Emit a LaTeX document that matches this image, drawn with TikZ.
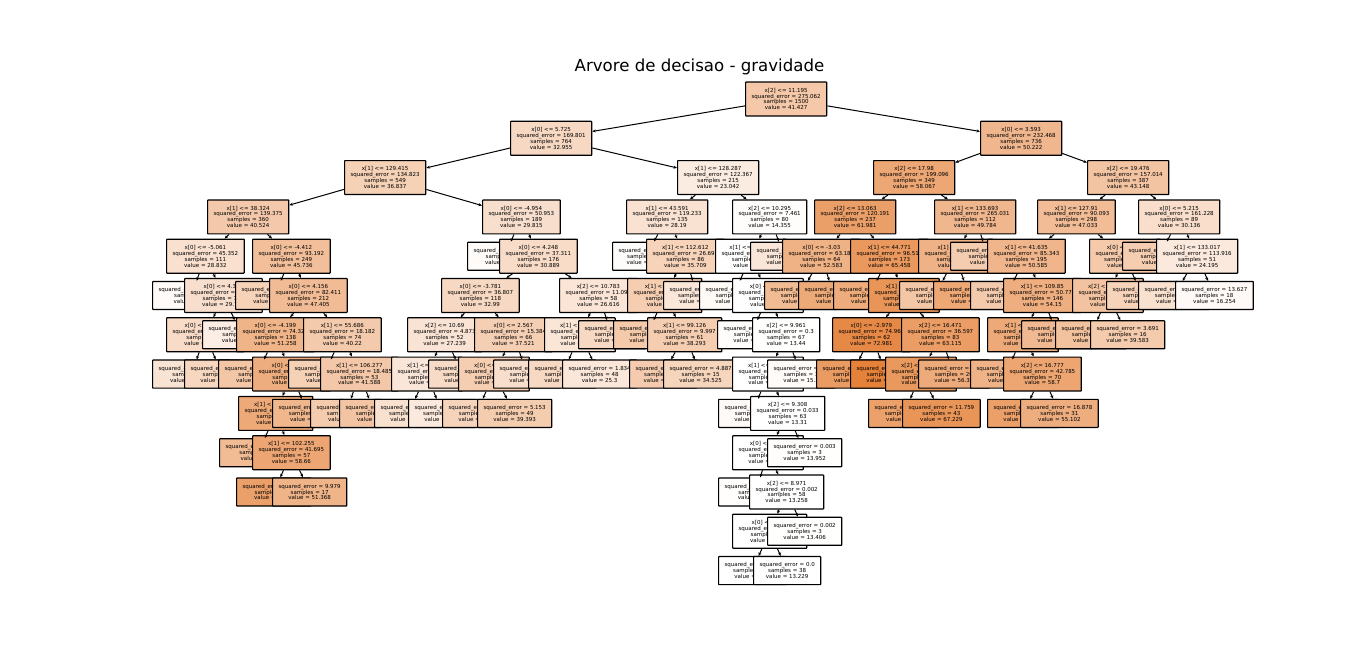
\documentclass[tikz,border=0pt]{standalone}
\usepackage{fontspec}
\setmainfont{DejaVu Sans}
\usetikzlibrary{arrows.meta}
\definecolor{sk}{RGB}{229,129,57}

\newcommand{\inode}[7]{%
  \pgfmathsetmacro\nodepct{max(0,min(100,(#7-13.229)*1.5618))}%
  \node[split,fill=sk!\nodepct!white] (#1) at (#2,#3) {#4\\squared\_error = #5\\samples = #6\\value = #7};}
\newcommand{\lnode}[6]{%
  \pgfmathsetmacro\nodepct{max(0,min(100,(#6-13.229)*1.5618))}%
  \node[split,fill=sk!\nodepct!white] (#1) at (#2,#3) {squared\_error = #4\\samples = #5\\value = #6};}

\begin{document}
\begin{tikzpicture}
		[x=1pt, y=-39.3pt,
		split/.style = {draw, line width=1.2pt, rounded corners=0.6pt, align=center, anchor=west,
			inner xsep=6pt, inner ysep=6pt, font=\fontsize{5.5}{5.9}\selectfont},
		link/.style = {-{Stealth[length=3.5pt,width=3pt]}, line width=1pt}]
	\useasboundingbox (0,-2.519) rectangle (1366,14.351);
	\node[font=\fontsize{16.6}{20}\selectfont, anchor=base] (title) at (699.5,-0.687) {Arvore de decisao - gravidade};
	\inode{1}{745}{0}{x[2] <= 11.195}{275.062}{1500}{41.427}
	\inode{2}{510}{1}{x[0] <= 5.725}{169.801}{764}{32.955}
	\inode{3}{344}{2}{x[1] <= 129.415}{134.823}{549}{36.837}
	\inode{4}{207}{3}{x[1] <= 38.324}{139.375}{360}{40.524}
	\inode{5}{166}{4}{x[0] <= -5.061}{45.352}{111}{28.832}
	\lnode{6}{152}{5}{21.734}{7}{15.2}
	\inode{7}{184}{5}{x[0] <= 4.352}{27.488}{104}{29.747}
	\inode{8}{166}{6}{x[0] <= -0.318}{24.907}{90}{31.004}
	\lnode{9}{152}{7}{14.251}{40}{27.512}
	\lnode{10}{184}{7}{17.63}{50}{33.803}
	\lnode{11}{202}{6}{19.845}{14}{21.69}
	\inode{12}{252}{4}{x[0] <= -4.412}{93.192}{249}{45.736}
	\lnode{13}{235}{5}{40.118}{37}{36.218}
	\inode{14}{269}{5}{x[0] <= 4.156}{82.411}{212}{47.405}
	\inode{15}{236}{6}{x[0] <= -4.199}{74.326}{138}{51.258}
	\lnode{16}{218}{7}{30.527}{41}{42.301}
	\inode{17}{252}{7}{x[0] <= 0.527}{48.113}{97}{55.04}
	\inode{18}{238}{8}{x[1] <= 22.614}{45.87}{67}{57.07}
	\lnode{19}{219}{9}{24.562}{10}{48.0}
	\inode{20}{252}{9}{x[1] <= 102.255}{41.695}{57}{58.66}
	\lnode{21}{236}{10}{30.14}{40}{61.76}
	\lnode{22}{272}{10}{9.979}{17}{51.368}
	\lnode{23}{272}{8}{28.4}{30}{50.5}
	\inode{24}{303}{6}{x[1] <= 55.686}{18.182}{74}{40.22}
	\lnode{25}{288}{7}{12.3}{21}{36.8}
	\inode{26}{320}{7}{x[1] <= 106.277}{18.485}{53}{41.588}
	\lnode{27}{310}{8}{10.4}{25}{39.9}
	\lnode{28}{339}{8}{14.2}{28}{43.1}
	\inode{29}{482}{3}{x[0] <= -4.954}{50.953}{189}{29.815}
	\lnode{30}{467}{4}{1.176}{13}{15.27}
	\inode{31}{499}{4}{x[0] <= 4.248}{37.311}{176}{30.889}
	\inode{32}{441}{5}{x[0] <= -3.781}{36.807}{118}{32.99}
	\inode{33}{407}{6}{x[2] <= 10.69}{4.873}{52}{27.239}
	\inode{34}{391}{7}{x[1] <= 61.05}{3.92}{40}{25.9}
	\lnode{35}{374}{8}{2.1}{15}{28.6}
	\lnode{36}{408}{8}{1.9}{25}{24.3}
	\lnode{37}{428}{7}{3.3}{12}{31.7}
	\inode{38}{474}{6}{x[0] <= 2.567}{15.384}{66}{37.521}
	\inode{39}{458}{7}{x[0] <= 1.482}{6.75}{57}{38.78}
	\lnode{40}{442}{8}{4.4}{8}{35.0}
	\lnode{41}{477}{8}{5.153}{49}{39.393}
	\lnode{42}{493}{7}{8.9}{9}{29.5}
	\inode{43}{559}{5}{x[2] <= 10.783}{11.094}{58}{26.616}
	\inode{44}{544}{6}{x[1] <= 135.6}{5.04}{53}{26.03}
	\lnode{45}{528}{7}{3.2}{5}{33.0}
	\lnode{46}{562}{7}{1.834}{48}{25.3}
	\lnode{47}{578}{6}{6.1}{5}{32.8}
	\inode{48}{677}{2}{x[1] <= 128.287}{122.367}{215}{23.042}
	\inode{49}{626}{3}{x[1] <= 43.591}{119.233}{135}{28.19}
	\lnode{50}{612}{4}{0.9}{49}{14.99}
	\inode{51}{646}{4}{x[1] <= 112.612}{26.695}{86}{35.709}
	\inode{52}{627}{5}{x[1] <= 58.37}{12.61}{68}{38.5}
	\lnode{53}{613}{6}{6.3}{7}{40.3}
	\inode{54}{647}{6}{x[1] <= 99.126}{9.997}{61}{38.293}
	\lnode{55}{629}{7}{7.1}{46}{39.52}
	\lnode{56}{663}{7}{4.887}{15}{34.525}
	\lnode{57}{663}{5}{9.8}{18}{25.2}
	\inode{58}{732}{3}{x[2] <= 10.295}{7.461}{80}{14.355}
	\inode{59}{715}{4}{x[1] <= 139.82}{0.62}{75}{13.6}
	\lnode{60}{699}{5}{0.4}{3}{16.0}
	\inode{61}{732}{5}{x[0] <= 5.51}{0.41}{72}{13.5}
	\lnode{62}{717}{6}{0.2}{5}{14.3}
	\inode{63}{752}{6}{x[2] <= 9.961}{0.3}{67}{13.44}
	\inode{64}{732}{7}{x[1] <= 138.4}{0.05}{64}{13.35}
	\lnode{65}{718}{8}{0.0}{1}{15.9}
	\inode{66}{750}{8}{x[2] <= 9.308}{0.033}{63}{13.31}
	\inode{67}{732}{9}{x[0] <= 5.06}{0.01}{60}{13.28}
	\lnode{68}{718}{10}{0.001}{2}{13.9}
	\inode{69}{749}{10}{x[2] <= 8.971}{0.002}{58}{13.258}
	\inode{70}{732}{11}{x[0] <= 4.12}{0.001}{55}{13.25}
	\lnode{71}{718}{12}{0.0}{17}{13.3}
	\lnode{72}{753}{12}{0.0}{38}{13.229}
	\lnode{73}{767}{11}{0.002}{3}{13.406}
	\lnode{74}{767}{9}{0.003}{3}{13.952}
	\lnode{75}{767}{7}{0.0}{3}{15.3}
	\lnode{76}{750}{4}{3.5}{5}{25.7}
	\inode{77}{980}{1}{x[0] <= 3.593}{232.468}{736}{50.222}
	\inode{78}{873}{2}{x[2] <= 17.98}{199.096}{349}{58.067}
	\inode{79}{814}{3}{x[2] <= 13.063}{120.191}{237}{61.981}
	\inode{80}{782}{4}{x[0] <= -3.03}{63.184}{64}{52.583}
	\lnode{81}{764}{5}{40.2}{30}{48.0}
	\lnode{82}{798}{5}{52.6}{34}{56.6}
	\inode{83}{850}{4}{x[1] <= 44.771}{96.513}{173}{65.458}
	\lnode{84}{833}{5}{60.3}{28}{55.8}
	\inode{85}{868}{5}{x[1] <= 24.6}{80.1}{145}{67.33}
	\inode{86}{832}{6}{x[0] <= -2.979}{74.968}{62}{72.981}
	\lnode{87}{816}{7}{44.1}{20}{64.0}
	\lnode{88}{850}{7}{38.7}{42}{77.26}
	\inode{89}{901}{6}{x[2] <= 16.471}{36.597}{83}{63.115}
	\inode{90}{885}{7}{x[2] <= 15.02}{27.1}{63}{65.25}
	\lnode{91}{868}{8}{20.8}{20}{61.0}
	\lnode{92}{902}{8}{11.759}{43}{67.229}
	\lnode{93}{918}{7}{22.6}{20}{56.39}
	\inode{94}{934}{3}{x[1] <= 133.693}{265.031}{112}{49.784}
	\inode{95}{918}{4}{x[1] <= 67.2}{120.4}{90}{52.4}
	\lnode{96}{899}{5}{81.3}{30}{42.4}
	\lnode{97}{933}{5}{70.2}{60}{57.4}
	\lnode{98}{950}{4}{180.6}{22}{39.1}
	\inode{99}{1087}{2}{x[2] <= 19.476}{157.014}{387}{43.148}
	\inode{100}{1037}{3}{x[1] <= 127.91}{90.093}{298}{47.033}
	\inode{101}{987}{4}{x[1] <= 41.635}{85.343}{195}{50.585}
	\lnode{102}{970}{5}{48.1}{49}{39.96}
	\inode{103}{1003}{5}{x[1] <= 109.85}{50.772}{146}{54.15}
	\inode{104}{987}{6}{x[1] <= 78.3}{42.0}{95}{56.94}
	\lnode{105}{970}{7}{30.3}{25}{52.0}
	\inode{106}{1003}{7}{x[2] <= 16.777}{42.785}{70}{58.7}
	\lnode{107}{987}{8}{35.2}{39}{61.56}
	\lnode{108}{1020}{8}{16.878}{31}{55.102}
	\lnode{109}{1021}{6}{31.8}{51}{48.95}
	\inode{110}{1089}{4}{x[0] <= 4.62}{62.3}{103}{40.3}
	\inode{111}{1072}{5}{x[2] <= 18.85}{30.4}{60}{43.5}
	\lnode{112}{1055}{6}{25.1}{44}{44.9}
	\lnode{113}{1090}{6}{3.691}{16}{39.583}
	\lnode{114}{1106}{5}{48.7}{43}{35.8}
	\inode{115}{1138}{3}{x[0] <= 5.215}{161.228}{89}{30.136}
	\lnode{116}{1122}{4}{120.3}{38}{38.1}
	\inode{117}{1156}{4}{x[1] <= 133.017}{113.916}{51}{24.195}
	\lnode{118}{1138}{5}{95.4}{33}{28.5}
	\lnode{119}{1175}{5}{13.627}{18}{16.254}
	\draw[link] (1) -- (2);
	\draw[link] (2) -- (3);
	\draw[link] (3) -- (4);
	\draw[link] (4) -- (5);
	\draw[link] (5) -- (6);
	\draw[link] (5) -- (7);
	\draw[link] (7) -- (8);
	\draw[link] (8) -- (9);
	\draw[link] (8) -- (10);
	\draw[link] (7) -- (11);
	\draw[link] (4) -- (12);
	\draw[link] (12) -- (13);
	\draw[link] (12) -- (14);
	\draw[link] (14) -- (15);
	\draw[link] (15) -- (16);
	\draw[link] (15) -- (17);
	\draw[link] (17) -- (18);
	\draw[link] (18) -- (19);
	\draw[link] (18) -- (20);
	\draw[link] (20) -- (21);
	\draw[link] (20) -- (22);
	\draw[link] (17) -- (23);
	\draw[link] (14) -- (24);
	\draw[link] (24) -- (25);
	\draw[link] (24) -- (26);
	\draw[link] (26) -- (27);
	\draw[link] (26) -- (28);
	\draw[link] (3) -- (29);
	\draw[link] (29) -- (30);
	\draw[link] (29) -- (31);
	\draw[link] (31) -- (32);
	\draw[link] (32) -- (33);
	\draw[link] (33) -- (34);
	\draw[link] (34) -- (35);
	\draw[link] (34) -- (36);
	\draw[link] (33) -- (37);
	\draw[link] (32) -- (38);
	\draw[link] (38) -- (39);
	\draw[link] (39) -- (40);
	\draw[link] (39) -- (41);
	\draw[link] (38) -- (42);
	\draw[link] (31) -- (43);
	\draw[link] (43) -- (44);
	\draw[link] (44) -- (45);
	\draw[link] (44) -- (46);
	\draw[link] (43) -- (47);
	\draw[link] (2) -- (48);
	\draw[link] (48) -- (49);
	\draw[link] (49) -- (50);
	\draw[link] (49) -- (51);
	\draw[link] (51) -- (52);
	\draw[link] (52) -- (53);
	\draw[link] (52) -- (54);
	\draw[link] (54) -- (55);
	\draw[link] (54) -- (56);
	\draw[link] (51) -- (57);
	\draw[link] (48) -- (58);
	\draw[link] (58) -- (59);
	\draw[link] (59) -- (60);
	\draw[link] (59) -- (61);
	\draw[link] (61) -- (62);
	\draw[link] (61) -- (63);
	\draw[link] (63) -- (64);
	\draw[link] (64) -- (65);
	\draw[link] (64) -- (66);
	\draw[link] (66) -- (67);
	\draw[link] (67) -- (68);
	\draw[link] (67) -- (69);
	\draw[link] (69) -- (70);
	\draw[link] (70) -- (71);
	\draw[link] (70) -- (72);
	\draw[link] (69) -- (73);
	\draw[link] (66) -- (74);
	\draw[link] (63) -- (75);
	\draw[link] (58) -- (76);
	\draw[link] (1) -- (77);
	\draw[link] (77) -- (78);
	\draw[link] (78) -- (79);
	\draw[link] (79) -- (80);
	\draw[link] (80) -- (81);
	\draw[link] (80) -- (82);
	\draw[link] (79) -- (83);
	\draw[link] (83) -- (84);
	\draw[link] (83) -- (85);
	\draw[link] (85) -- (86);
	\draw[link] (86) -- (87);
	\draw[link] (86) -- (88);
	\draw[link] (85) -- (89);
	\draw[link] (89) -- (90);
	\draw[link] (90) -- (91);
	\draw[link] (90) -- (92);
	\draw[link] (89) -- (93);
	\draw[link] (78) -- (94);
	\draw[link] (94) -- (95);
	\draw[link] (95) -- (96);
	\draw[link] (95) -- (97);
	\draw[link] (94) -- (98);
	\draw[link] (77) -- (99);
	\draw[link] (99) -- (100);
	\draw[link] (100) -- (101);
	\draw[link] (101) -- (102);
	\draw[link] (101) -- (103);
	\draw[link] (103) -- (104);
	\draw[link] (104) -- (105);
	\draw[link] (104) -- (106);
	\draw[link] (106) -- (107);
	\draw[link] (106) -- (108);
	\draw[link] (103) -- (109);
	\draw[link] (100) -- (110);
	\draw[link] (110) -- (111);
	\draw[link] (111) -- (112);
	\draw[link] (111) -- (113);
	\draw[link] (110) -- (114);
	\draw[link] (99) -- (115);
	\draw[link] (115) -- (116);
	\draw[link] (115) -- (117);
	\draw[link] (117) -- (118);
	\draw[link] (117) -- (119);
\end{tikzpicture}
\end{document}
